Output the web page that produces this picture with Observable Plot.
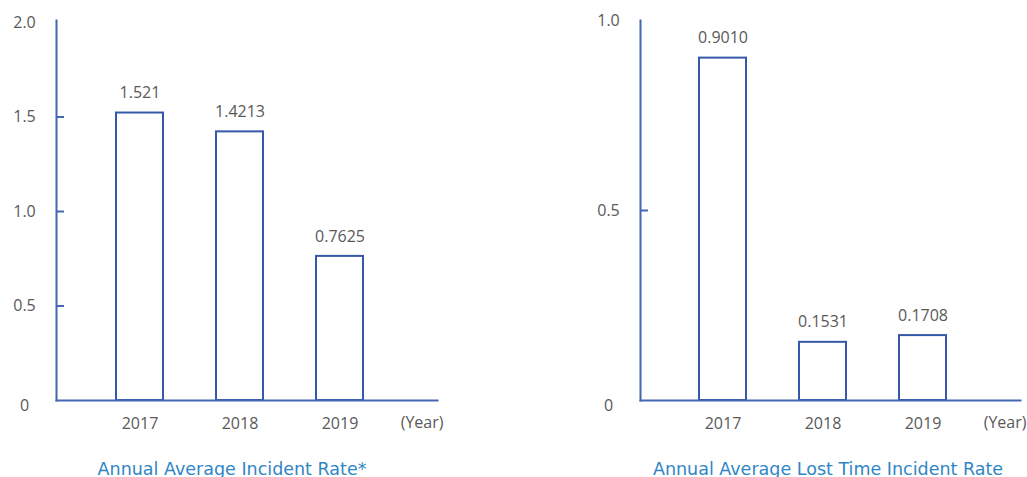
<!DOCTYPE html>
<html>
<head>
<meta charset="utf-8">
<script src="https://cdn.jsdelivr.net/npm/d3@7"></script>
<script src="https://cdn.jsdelivr.net/npm/@observablehq/plot@0.6"></script>
<style>
  html, body { margin: 0; padding: 0; background: #fff; overflow: hidden; }
  #wrap { position: relative; width: 1027px; height: 477px; overflow: hidden; }
  .panel { position: absolute; top: 0; }
  .caption {
    position: absolute;
    font-family: "DejaVu Sans", sans-serif;
    font-size: 17.5px;
    color: #2f86c6;
    white-space: nowrap;
    text-align: center;
    transform: translateX(-50%);
    line-height: 20px;
  }
</style>
</head>
<body>
<div id="wrap">
  <div class="panel" id="left"></div>
  <div class="panel" id="right" style="left:560px"></div>
</div>
<script>
// Fiscal years shown on both charts
const years = ["2017", "2018", "2019"];

// Annual average incident rate (left chart)
const incidentRate = [1.521, 1.4213, 0.7625];
const incidentLabels = ["1.521", "1.4213", "0.7625"];
const incidentTicks = [0, 0.5, 1.0, 1.5, 2.0];

// Annual average lost time incident rate (right chart)
const lostTimeRate = [0.9010, 0.1531, 0.1708];
const lostTimeLabels = ["0.9010", "0.1531", "0.1708"];
const lostTimeTicks = [0, 0.5, 1.0];

// Chart titles and the x unit
const incidentTitle = "Annual Average Incident Rate*";
const lostTimeTitle = "Annual Average Lost Time Incident Rate";
const yearUnit = "(Year)";

const blue = "#3558a9";
const axisBlue = "#4467b3";
const gray = "#595959";
const font = "Open Sans, sans-serif";
const fs = 16;

function panel({width, marginLeft, marginRight, xRange, yDomain, yRange, values, labels, ticks}) {
  const height = 450;
  const marginTop = 20, marginBottom = 50;
  const data = years.map((year, i) => ({year, value: values[i], label: labels[i]}));
  const frameWidth = width - marginLeft - marginRight;
  const fmt = d => d === 0 ? "0" : d.toFixed(1);
  const inner = ticks.filter(t => t > 0 && t < yDomain[1]);
  return Plot.plot({
    width, height, marginLeft, marginRight, marginTop, marginBottom,
    style: {fontFamily: font, fontSize: fs + "px", color: gray, background: "#fff"},
    x: {type: "band", domain: years, range: xRange, paddingInner: 0.53, paddingOuter: 0},
    y: {domain: yDomain, range: yRange},
    marks: [
      // bars
      Plot.barY(data, {x: "year", y: "value", fill: "white", stroke: blue, strokeWidth: 2}),
      // axis lines
      Plot.frame({anchor: "left", stroke: axisBlue, strokeWidth: 2}),
      Plot.frame({anchor: "bottom", stroke: axisBlue, strokeWidth: 2}),
      // short inward ticks on the y axis
      Plot.ruleY(inner, {y: d => d, stroke: axisBlue, strokeWidth: 2, insetRight: frameWidth - 8}),
      // y tick labels
      Plot.axisY(ticks.filter(t => t > 0), {label: null, tickSize: 0, tickPadding: 32, textAnchor: "middle", tickFormat: fmt, fill: gray, fontSize: fs}),
      Plot.axisY([0], {label: null, tickSize: 0, tickPadding: 32, textAnchor: "middle", tickFormat: fmt, fill: gray, fontSize: fs, dy: 5}),
      // year labels
      Plot.axisX({label: null, tickSize: 0, tickPadding: 17, fill: gray, fontSize: fs}),
      Plot.text([yearUnit], {frameAnchor: "bottom-right", text: d => d, textAnchor: "end", lineAnchor: "middle", dx: 6, dy: 22, fill: gray, fontSize: fs}),
      // value labels above bars
      Plot.text(data, {x: "year", y: "value", text: "label", dy: -20, fill: gray, fontSize: fs})
    ]
  });
}

document.getElementById("left").append(panel({
  width: 560, marginLeft: 56, marginRight: 123,
  xRange: [116, 363], yDomain: [0, 2], yRange: [400, 22],
  values: incidentRate, labels: incidentLabels, ticks: incidentTicks
}));

document.getElementById("right").append(panel({
  width: 467, marginLeft: 80, marginRight: 7,
  xRange: [139, 386], yDomain: [0, 1], yRange: [400, 20],
  values: lostTimeRate, labels: lostTimeLabels, ticks: lostTimeTicks
}));

const wrap = document.getElementById("wrap");
for (const [text, cx] of [[incidentTitle, 232], [lostTimeTitle, 828]]) {
  const c = document.createElement("div");
  c.className = "caption";
  c.style.left = cx + "px";
  c.style.top = "459px";
  c.textContent = text;
  wrap.append(c);
}
</script>
</body>
</html>
